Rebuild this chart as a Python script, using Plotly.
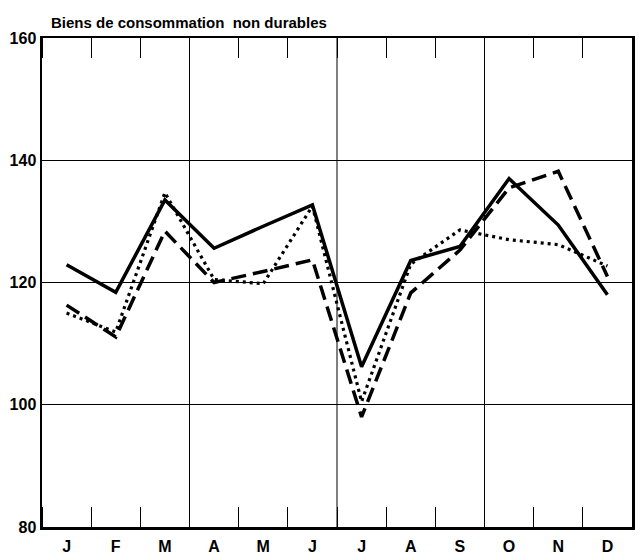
import plotly.graph_objects as go

months = ["J", "F", "M", "A", "M", "J", "J", "A", "S", "O", "N", "D"]
series_solid = [122.9, 118.4, 133.5, 125.6, 129.2, 132.7, 106.2, 123.6, 125.9, 137.0, 129.4, 118.0]
series_dashed = [116.3, 111.1, 128.4, 120.0, 121.8, 123.7, 98.0, 118.3, 125.3, 135.5, 138.2, 121.0]
series_dotted = [115.0, 111.9, 134.7, 120.5, 119.8, 132.5, 100.5, 123.0, 128.6, 127.0, 126.2, 122.7]
y_ticks = [80, 100, 120, 140, 160]
quarter_bounds = [2.5, 5.5, 8.5]
title_text = "Biens de consommation  non durables"

FONT = "Liberation Sans, Arial, sans-serif"
x = list(range(len(months)))

fig = go.Figure()
fig.add_trace(go.Scatter(x=x, y=series_dotted, mode="lines",
                         line=dict(color="black", width=3.2, dash="3px,4px")))
fig.add_trace(go.Scatter(x=x, y=series_dashed, mode="lines",
                         line=dict(color="black", width=3.5, dash="15px,7px")))
fig.add_trace(go.Scatter(x=x, y=series_solid, mode="lines",
                         line=dict(color="black", width=3.5)))

for qb in quarter_bounds:
    fig.add_shape(type="line", xref="x", yref="paper", x0=qb, x1=qb, y0=0, y1=1,
                  line=dict(color="black", width=1), layer="below")

fig.update_layout(
    width=638, height=557,
    margin=dict(l=42, r=6, t=38, b=30, autoexpand=False),
    paper_bgcolor="white", plot_bgcolor="white",
    showlegend=False, hovermode=False,
    font=dict(family=FONT, color="black"),
    annotations=[dict(text="<b>" + title_text + "</b>", xref="paper", yref="paper",
                      x=0.012, y=1.0, yshift=5, xanchor="left", yanchor="bottom",
                      showarrow=False, font=dict(size=15, family=FONT, color="black"))],
)
fig.update_xaxes(
    range=[-0.5, 11.5], automargin=False,
    tickvals=x, ticktext=["<b>" + m + "</b>" for m in months],
    tickfont=dict(size=16, family=FONT, color="black"),
    ticks="", ticklabelstandoff=3, showgrid=False, zeroline=False,
    showline=True, linecolor="black", linewidth=2.5, mirror="ticks",
    minor=dict(tick0=0.5, dtick=1, ticks="inside", ticklen=20, tickwidth=1,
               tickcolor="black", showgrid=False),
)
fig.update_yaxes(
    range=[80, 160], automargin=False,
    tickvals=y_ticks, ticktext=["<b>%d</b>" % v for v in y_ticks],
    tickfont=dict(size=16, family=FONT, color="black"),
    ticks="", ticklabelstandoff=0, showgrid=True, gridcolor="black", gridwidth=1, zeroline=False,
    showline=True, linecolor="black", linewidth=2.5, mirror=True,
)

fig.write_html("out.html", config={"displayModeBar": False, "staticPlot": True},
               post_script="document.body.style.margin='0';document.body.style.overflow='hidden';")
